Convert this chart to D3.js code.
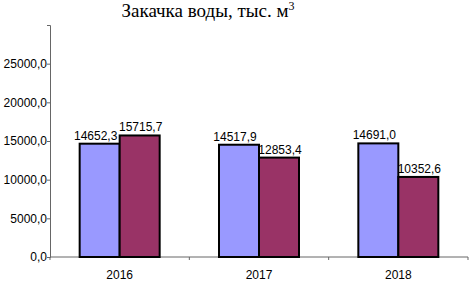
<!DOCTYPE html>
<html>
<head>
<meta charset="utf-8">
<script src="https://cdn.jsdelivr.net/npm/d3@7"></script>
<style>
  body { margin: 0; background: #fff; }
  svg { display: block; }
</style>
</head>
<body>
<script>
// chart data
var years = ["2016", "2017", "2018"];
var seriesA = [14652.3, 14517.9, 14691.0];
var seriesB = [15715.7, 12853.4, 10352.6];
var yTicks = [0, 5000, 10000, 15000, 20000, 25000, 30000];
var seriesColors = ["#9999ff", "#993366"];

var w = 469, h = 281;
var margin = {top: 25, right: 1, bottom: 24, left: 50};

var svg = d3.select("body").append("svg")
    .attr("width", w)
    .attr("height", h);

var fmt = function(v) { return d3.format(".1f")(v).replace(".", ","); };

var xScale = d3.scaleBand()
    .domain(years)
    .range([margin.left, w - margin.right]);

var yScale = d3.scaleLinear()
    .domain([0, 30000])
    .range([h - margin.bottom, margin.top]);

// title
var title = svg.append("text")
    .attr("x", 208)
    .attr("y", 17)
    .attr("text-anchor", "middle")
    .style("font-family", "'Liberation Serif', 'Times New Roman', serif")
    .style("font-size", "19px")
    .text("Закачка воды, тыс. м");
title.append("tspan")
    .attr("dy", "-7")
    .style("font-size", "12px")
    .text("3");

// y axis
var yAxis = d3.axisLeft(yScale)
    .tickValues(yTicks)
    .tickSize(3)
    .tickFormat(function(d) { return d === 30000 ? "" : fmt(d); });

var gy = svg.append("g")
    .attr("transform", "translate(" + margin.left + ",0)")
    .call(yAxis);
gy.select(".domain").attr("stroke", "#666");
gy.selectAll(".tick line").attr("stroke", "#666");
gy.selectAll("text")
    .attr("x", -3)
    .style("font-family", "'Liberation Sans', Arial, sans-serif")
    .style("font-size", "12px")
    .attr("fill", "#000");

// x axis
var gx = svg.append("g")
    .attr("transform", "translate(0," + (h - margin.bottom) + ")");
gx.append("line")
    .attr("x1", margin.left).attr("x2", w - margin.right)
    .attr("stroke", "#666");
var edges = [margin.left].concat(years.map(function(y) { return xScale(y) + xScale.bandwidth(); }));
gx.selectAll(".xt")
    .data(edges)
    .enter()
    .append("line")
    .attr("x1", function(d) { return d; })
    .attr("x2", function(d) { return d; })
    .attr("y1", 0).attr("y2", 3)
    .attr("stroke", "#666");
gx.selectAll(".xl")
    .data(years)
    .enter()
    .append("text")
    .attr("x", function(d) { return xScale(d) + xScale.bandwidth() / 2; })
    .attr("y", 22)
    .attr("text-anchor", "middle")
    .style("font-family", "'Liberation Sans', Arial, sans-serif")
    .style("font-size", "12px")
    .text(function(d) { return d; });

// bars
var rows = [];
years.forEach(function(y, i) {
    rows.push({year: y, s: 0, v: seriesA[i]});
    rows.push({year: y, s: 1, v: seriesB[i]});
});

var barW = 40;
function barX(d) {
    var c = xScale(d.year) + xScale.bandwidth() / 2;
    return d.s === 0 ? c - barW : c;
}

svg.selectAll("rect.bar")
    .data(rows)
    .enter()
    .append("rect")
    .attr("class", "bar")
    .attr("x", barX)
    .attr("width", barW)
    .attr("y", function(d) { return yScale(d.v); })
    .attr("height", function(d) { return yScale(0) - yScale(d.v); })
    .attr("fill", function(d) { return seriesColors[d.s]; })
    .attr("stroke", "#000")
    .attr("stroke-width", 2);

// value labels
svg.selectAll("text.val")
    .data(rows)
    .enter()
    .append("text")
    .attr("class", "val")
    .attr("x", function(d) { return barX(d) + barW / 2 + (d.s === 0 ? -4 : 1); })
    .attr("y", function(d) { return yScale(d.v) - 4; })
    .attr("text-anchor", "middle")
    .style("font-family", "'Liberation Sans', Arial, sans-serif")
    .style("font-size", "12px")
    .text(function(d) { return fmt(d.v); });
</script>
</body>
</html>
